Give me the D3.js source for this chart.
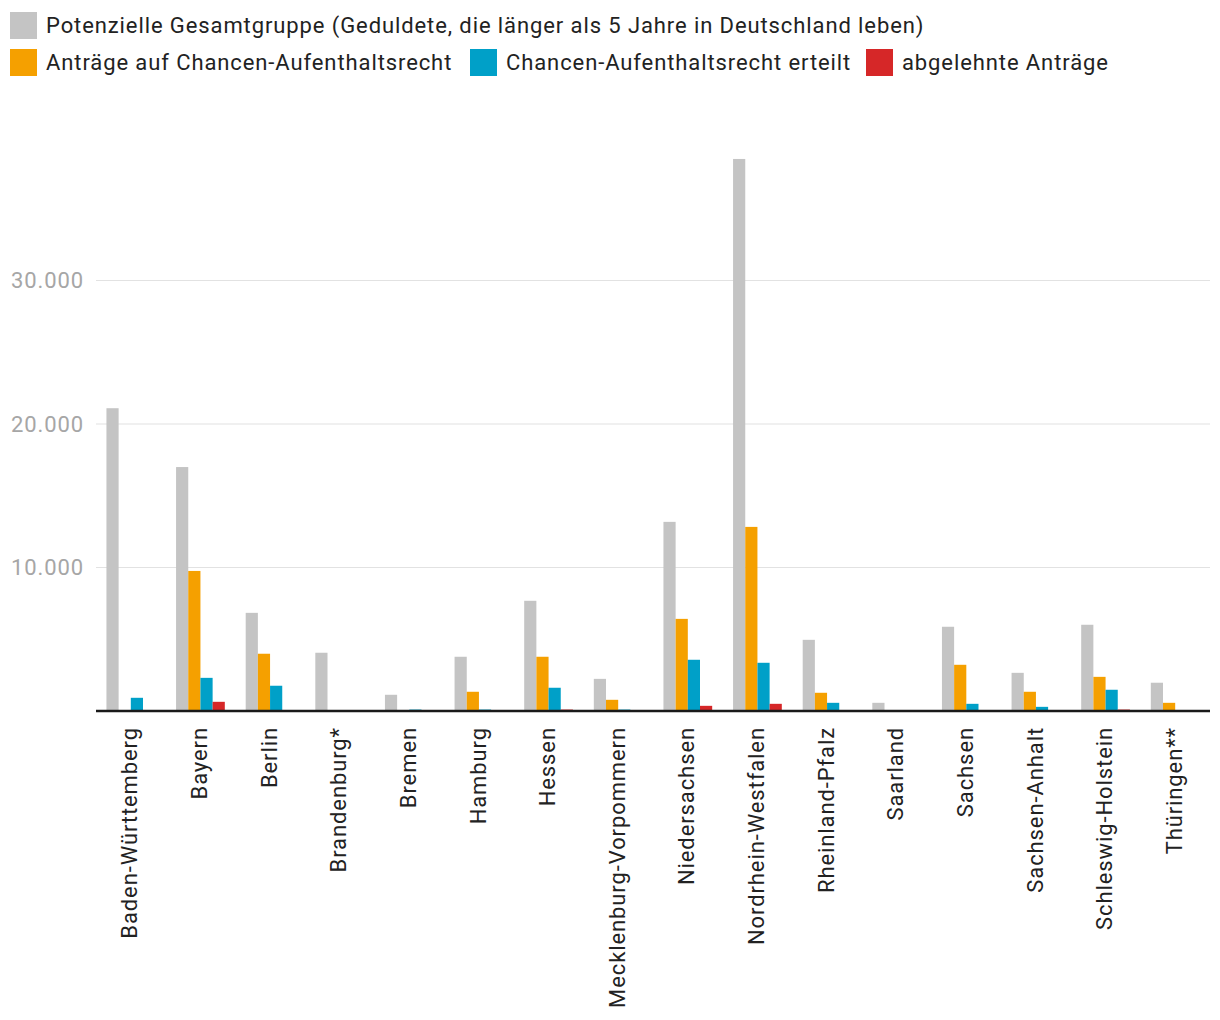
<!DOCTYPE html>
<html><head><meta charset="utf-8">
<script src="https://cdn.jsdelivr.net/npm/d3@7"></script>
<style>body{margin:0;background:#fff;font-family:Roboto,sans-serif} text{letter-spacing:0.9px}</style>
</head><body>
<svg id="c" width="1220" height="1020"></svg>
<script>
const categories = ["Baden-Württemberg","Bayern","Berlin","Brandenburg*","Bremen","Hamburg","Hessen","Mecklenburg-Vorpommern","Niedersachsen","Nordrhein-Westfalen","Rheinland-Pfalz","Saarland","Sachsen","Sachsen-Anhalt","Schleswig-Holstein","Thüringen**"];
const seriesNames = ["Potenzielle Gesamtgruppe (Geduldete, die länger als 5 Jahre in Deutschland leben)","Anträge auf Chancen-Aufenthaltsrecht","Chancen-Aufenthaltsrecht erteilt","abgelehnte Anträge"];
const colors = ["#c4c4c4","#f5a000","#00a0c8","#d62728"];
const gesamt =    [21100,17000,6840,4060,1130,3780,7680,2240,13180,38470,4960,570,5870,2660,6010,1970];
const antraege =  [0,9760,3990,0,0,1340,3780,780,6420,12830,1270,0,3220,1340,2380,570];
const erteilt =   [920,2310,1760,0,100,100,1620,100,3570,3360,570,0,500,290,1480,0];
const abgelehnt = [0,640,0,0,0,0,100,0,360,500,0,0,0,0,100,0];
const yTicks = [10000,20000,30000];
const series = [gesamt, antraege, erteilt, abgelehnt];

(function(){
const svg = d3.select("#c");
const mLeft = 96, mRight = 1210, mBottom = 711;
const x0 = d3.scaleBand().domain(categories).range([mLeft,mRight]).paddingInner(0.3).paddingOuter(0.15);
const x1 = d3.scaleBand().domain(d3.range(4)).range([0,x0.bandwidth()]);
const y = d3.scaleLinear().domain([0,39000]).range([mBottom, mBottom-39000*0.01435]);
const fmt = v => d3.format(",")(v).replace(/,/g,".");

svg.append("g").selectAll("line").data(yTicks).join("line")
  .attr("x1",mLeft).attr("x2",mRight).attr("y1",d=>y(d)).attr("y2",d=>y(d))
  .attr("stroke","#e2e2e2").attr("stroke-width",1.2);
svg.append("g").selectAll("text").data(yTicks).join("text")
  .attr("x",84).attr("y",d=>y(d)).attr("dy","0.35em").attr("text-anchor","end")
  .attr("font-size",22).attr("fill","#a6a6a6").text(fmt);

const g = svg.append("g");
categories.forEach((c,i)=>{
  series.forEach((s,j)=>{
    if(s[i]>0) g.append("rect").attr("x",x0(c)+x1(j)).attr("width",x1.bandwidth())
      .attr("y",y(s[i])).attr("height",y(0)-y(s[i])).attr("fill",colors[j]);
  });
});

svg.append("line").attr("x1",mLeft).attr("x2",mRight).attr("y1",711).attr("y2",711)
  .attr("stroke","#1a1a1a").attr("stroke-width",2.5);

svg.append("g").selectAll("text").data(categories).join("text")
  .attr("transform",d=>`translate(${x0(d)+x0.bandwidth()/2},727) rotate(-90)`)
  .attr("dy","0.3em").attr("text-anchor","end").attr("font-size",22).attr("fill","#222")
  .text(d=>d);

const leg = [
  {i:0,x:10,y:12},
  {i:1,x:10,y:49},{i:2,x:470,y:49},{i:3,x:866,y:49}
];
leg.forEach(l=>{
  svg.append("rect").attr("x",l.x).attr("y",l.y).attr("width",27).attr("height",27).attr("fill",colors[l.i]);
  svg.append("text").attr("x",l.x+36).attr("y",l.y+13.5).attr("dy","0.35em")
    .attr("font-size",22).attr("fill","#222").text(seriesNames[l.i]);
});
})();
</script>
</body></html>
